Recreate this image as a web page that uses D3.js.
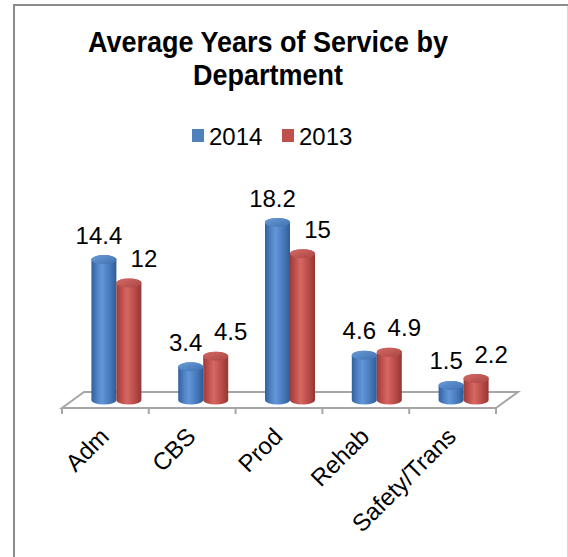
<!DOCTYPE html>
<html>
<head>
<meta charset="utf-8">
<script src="https://cdn.jsdelivr.net/npm/d3@7"></script>
<style>
  html, body { margin: 0; padding: 0; background: #fff; }
  svg { display: block; font-family: "Liberation Sans", Arial, sans-serif; }
</style>
</head>
<body>
<svg id="chart" width="568" height="557"></svg>
<script>
// Average years of service, per department and year
const categories = ["Adm", "CBS", "Prod", "Rehab", "Safety/Trans"];
const values2014 = [14.4, 3.4, 18.2, 4.6, 1.5];
const values2013 = [12, 4.5, 15, 4.9, 2.2];
const seriesNames = ["2014", "2013"];
const seriesColors = ["#4f81bd", "#c0504d"];
const titleLines = ["Average Years of Service by", "Department"];

const svg = d3.select("#chart");

// Chart frame
svg.append("line").attr("x1", 14).attr("y1", 5).attr("x2", 568).attr("y2", 5)
  .attr("stroke", "#8c8c8c").attr("stroke-width", 2);
svg.append("line").attr("x1", 14).attr("y1", 4).attr("x2", 14).attr("y2", 557)
  .attr("stroke", "#8c8c8c").attr("stroke-width", 2);
svg.append("line").attr("x1", 567.5).attr("y1", 6).attr("x2", 567.5).attr("y2", 557)
  .attr("stroke", "#d9d9d9").attr("stroke-width", 1);

// Title (slightly tall letterforms)
svg.append("g").selectAll("text").data(titleLines).join("text")
  .attr("text-anchor", "middle").attr("font-weight", "bold").attr("font-size", 27)
  .attr("fill", "#000")
  .attr("transform", (d, i) => `translate(268,${52 + i * 33}) scale(1,1.1)`)
  .text(d => d);

// Legend
const legendX = [192, 282];
seriesNames.forEach((name, i) => {
  svg.append("rect").attr("x", legendX[i]).attr("y", 129).attr("width", 12).attr("height", 13)
    .attr("fill", seriesColors[i]);
  svg.append("text").attr("x", legendX[i] + 17).attr("y", 145)
    .attr("font-size", 24).attr("fill", "#000").text(name);
});

// 3D geometry: floor depth offset
const depthX = 22, depthY = -16;
const frontY = 408;

const x = d3.scaleBand().domain(categories).range([62, 496]).padding(0);
const y = d3.scaleLinear().domain([0, 20]).range([frontY + depthY / 2, frontY + depthY / 2 - 195]);

// Floor plane
const x0 = x.range()[0], x1 = x.range()[1];
svg.append("path")
  .attr("d", `M${x0},${frontY} L${x1},${frontY} L${x1 + depthX},${frontY + depthY} L${x0 + depthX},${frontY + depthY} Z`)
  .attr("fill", "#fff").attr("stroke", "#a6a6a6").attr("stroke-width", 2)
  .attr("stroke-linejoin", "miter");

// Category ticks on the front edge
const tickXs = categories.map(c => x(c)).concat([x1]);
svg.append("g").selectAll("line").data(tickXs).join("line")
  .attr("x1", d => d).attr("x2", d => d)
  .attr("y1", frontY).attr("y2", frontY + 6)
  .attr("stroke", "#a6a6a6").attr("stroke-width", 2);

// Gradients for the cylinders
const defs = svg.append("defs");
const shades = [
  { id: "g2014", stops: ["#30609e", "#5285c6", "#6196d8", "#4a7dbf", "#2f5c96"], top: "#6b9bd8", topEdge: "#3f70b0" },
  { id: "g2013", stops: ["#9c3b38", "#c45450", "#d66864", "#bd4e4b", "#933734"], top: "#d46a66", topEdge: "#ab4643" }
];
shades.forEach(s => {
  const lg = defs.append("linearGradient").attr("id", s.id).attr("x1", "0").attr("x2", "1").attr("y1", "0").attr("y2", "0");
  const offs = [0, 0.25, 0.42, 0.7, 1];
  s.stops.forEach((c, k) => lg.append("stop").attr("offset", offs[k]).attr("stop-color", c));
  const rg = defs.append("linearGradient").attr("id", s.id + "top").attr("x1", "0").attr("x2", "1").attr("y1", "0").attr("y2", "1");
  rg.append("stop").attr("offset", 0).attr("stop-color", s.top);
  rg.append("stop").attr("offset", 1).attr("stop-color", s.topEdge);
});

const barW = 25, rx = barW / 2, ry = 4.5;
const series = [values2014, values2013];

const bars = svg.append("g");
categories.forEach((cat, ci) => {
  const center = x(cat) + x.bandwidth() / 2 + depthX / 2;
  series.forEach((vals, si) => {
    const v = vals[ci];
    const cx = center + (si === 0 ? -rx : rx);
    const yb = y(0), yt = y(v);
    const g = bars.append("g");
    g.append("path")
      .attr("d", `M${cx - rx},${yt} L${cx - rx},${yb} A${rx},${ry} 0 0 0 ${cx + rx},${yb} L${cx + rx},${yt} A${rx},${ry} 0 0 0 ${cx - rx},${yt} Z`)
      .attr("fill", `url(#${shades[si].id})`);
    g.append("ellipse").attr("cx", cx).attr("cy", yt).attr("rx", rx).attr("ry", ry)
      .attr("fill", `url(#${shades[si].id}top)`);
  });
});

// Value labels
const labels = svg.append("g").attr("font-size", 24).attr("fill", "#000").attr("text-anchor", "middle");
categories.forEach((cat, ci) => {
  const center = x(cat) + x.bandwidth() / 2 + depthX / 2;
  series.forEach((vals, si) => {
    const v = vals[ci];
    const cx = center + (si === 0 ? -rx - 5 : rx + 15);
    labels.append("text").attr("x", cx).attr("y", y(v) - 16).text(v);
  });
});

// Rotated category labels
svg.append("g").selectAll("text").data(categories).join("text")
  .attr("font-size", 24).attr("fill", "#000").attr("text-anchor", "end")
  .attr("transform", d => `translate(${x(d) + x.bandwidth() / 2 + 5},${frontY + 30}) rotate(-45)`)
  .text(d => d);
</script>
</body>
</html>
